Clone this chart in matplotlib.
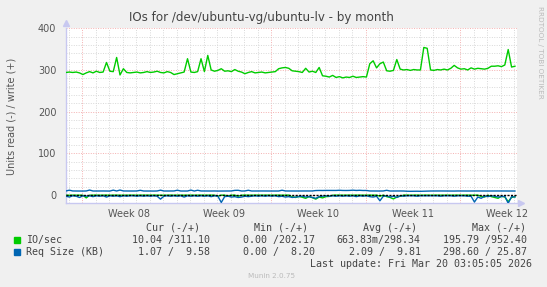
import numpy as np
import matplotlib
matplotlib.use("Agg")
import matplotlib.pyplot as plt
from matplotlib.patches import Rectangle

# samples every 6 hours, day 0 = left edge of the graph
io_write = [
    294, 295, 294, 295, 293, 289, 293, 296, 293, 297,
    294, 295, 318, 297, 296, 330, 288, 303, 294, 293,
    294, 295, 293, 294, 296, 294, 295, 297, 294, 293,
    296, 294, 289, 291, 293, 295, 327, 295, 294, 296,
    327, 296, 335, 300, 297, 299, 303, 297, 298, 296,
    301, 297, 295, 291, 294, 296, 293, 294, 295, 293,
    294, 295, 296, 303, 305, 306, 304, 298, 297, 296,
    294, 304, 295, 297, 294, 306, 286, 285, 283, 287,
    282, 284, 281, 283, 282, 285, 282, 283, 284, 283,
    315, 322, 305, 315, 319, 298, 297, 299, 325, 302,
    300, 301, 299, 301, 300, 300, 354, 352, 300, 299,
    301, 300, 302, 300, 304, 311, 305, 302, 303, 300,
    305, 302, 304, 303, 302, 304, 309, 309, 310, 308,
    312, 349, 307, 309,
]
io_read = [
    0.5, 0.8, 0.4, 0.6, 0.5, 0.7, 7.0, 0.6, 0.5, 0.4,
    0.6, 0.5, 0.4, 0.6, 0.5, 0.4, 0.7, 0.5, 0.6, 0.4,
    0.5, 0.6, 0.4, 0.5, 0.6, 0.5, 0.4, 0.6, 0.5, 0.7,
    0.5, 0.4, 0.6, 0.5, 0.4, 0.6, 0.5, 0.4, 0.6, 0.5,
    0.4, 0.6, 0.5, 0.4, 0.6, 3.0, 0.4, 0.5, 2.5, 0.4,
    0.5, 3.0, 0.6, 0.4, 0.5, 0.6, 0.4, 0.5, 0.6, 0.5,
    0.4, 0.6, 0.5, 0.4, 0.6, 0.5, 0.4, 4.5, 6.0, 3.5,
    5.5, 8.0, 4.0, 6.5, 10.0, 5.0, 7.0, 4.0, 3.5, 0.6,
    0.5, 0.4, 0.6, 0.5, 0.4, 0.6, 0.5, 0.4, 0.6, 0.5,
    0.4, 0.6, 0.5, 3.0, 0.5, 4.0, 6.0, 9.5, 5.0, 3.0,
    0.5, 0.4, 0.6, 0.5, 0.4, 0.6, 0.5, 0.4, 0.6, 0.5,
    0.4, 0.6, 0.5, 0.4, 0.6, 0.5, 0.4, 0.6, 0.5, 0.4,
    0.6, 0.5, 0.4, 3.5, 5.0, 0.6, 4.0, 6.0, 8.0, 3.0,
    5.0, 16.0, 6.0, 4.0,
]
size_write = [
    9.6, 11.5, 9.6, 9.5, 9.6, 9.4, 9.6, 11.8, 9.5, 9.6,
    9.5, 9.6, 9.5, 9.4, 11.6, 9.5, 11.8, 9.6, 9.5, 9.6,
    9.5, 9.6, 11.2, 9.5, 9.6, 9.5, 9.4, 9.6, 11.5, 9.5,
    9.6, 9.5, 9.6, 11.4, 9.5, 9.6, 9.5, 11.7, 9.4, 11.3,
    9.6, 9.5, 9.6, 9.5, 9.6, 9.4, 9.5, 9.6, 9.5, 9.6,
    11.0, 11.2, 9.5, 9.6, 11.3, 9.5, 9.6, 9.5, 9.6, 9.5,
    9.6, 9.5, 9.6, 9.5, 11.4, 9.6, 9.5, 9.6, 9.5, 9.6,
    9.5, 9.6, 9.5, 9.6, 10.6, 10.8, 10.7, 10.9, 10.8, 10.7,
    10.8, 11.3, 10.8, 10.7, 10.9, 11.5, 10.8, 11.2, 10.7, 10.8,
    9.6, 9.5, 9.6, 9.5, 9.6, 11.2, 9.5, 9.6, 9.5, 9.6,
    9.5, 9.0, 8.8, 8.9, 9.0, 8.8, 9.1, 9.6, 9.5, 9.6,
    9.5, 9.6, 9.5, 9.6, 9.5, 9.4, 9.6, 9.5, 9.6, 9.5,
    9.6, 9.5, 9.6, 9.5, 9.6, 9.5, 9.6, 9.5, 9.6, 9.5,
    9.6, 9.5, 9.6, 9.5,
]
size_read = [
    3, 5, 2, 3, 6, 2, 3, 2, 4, 2,
    3, 2, 5, 2, 3, 2, 4, 2, 3, 2,
    2, 3, 2, 3, 2, 3, 2, 3, 10, 3,
    2, 3, 2, 3, 2, 5, 2, 3, 2, 3,
    2, 3, 2, 4, 2, 3, 18, 4, 3, 5,
    4, 6, 5, 3, 4, 3, 2, 3, 2, 3,
    2, 3, 2, 4, 3, 5, 4, 6, 5, 4,
    3, 5, 4, 6, 8, 4, 3, 2, 3, 2,
    3, 2, 3, 2, 3, 2, 4, 2, 3, 2,
    4, 5, 3, 14, 3, 2, 5, 3, 6, 2,
    3, 2, 2, 2, 3, 2, 2, 2, 2, 2,
    2, 3, 2, 2, 2, 3, 2, 2, 2, 3,
    3, 17, 5, 8, 3, 4, 2, 3, 5, 4,
    3, 20, 4, 5,
]
week_labels = ["Week 08", "Week 09", "Week 10", "Week 11", "Week 12"]
yticks = [0, 100, 200, 300, 400]

legend_rows = [
    ("IO/sec", "#00cc00", "10.04 /311.10", "0.00 /202.17", "663.83m/298.34", "195.79 /952.40"),
    ("Req Size (KB)", "#0066b3", "1.07 /  9.58", "0.00 /  8.20", "2.09 /  9.81", "298.60 / 25.87"),
]

W, H = 547, 287
def fx(px):
    return px / W
def fy(py):
    return 1 - py / H

days = np.arange(len(io_write)) * 0.25
week_start = 1.2
x_max = 33.38

fig = plt.figure(figsize=(W / 100, H / 100), dpi=100, facecolor="#f0f0f0")
ax = fig.add_axes([fx(66), fy(203.3), 450.7 / W, 175 / H])
ax.set_facecolor("white")
ax.set_xlim(0, x_max)
ax.set_ylim(-20, 400)

# grid
for d in np.arange(week_start - 1, x_max, 1.0):
    major = abs((d - week_start) % 7) < 1e-6
    ax.axvline(d, color="#f4b0b0" if major else "#d8d8d8", lw=0.7,
               ls=(0, (1, 1.5)), zorder=1)
for v in range(-20, 401, 20):
    ax.axhline(v, color="#f4b0b0" if v % 100 == 0 else "#d8d8d8", lw=0.7,
               ls=(0, (1, 1.5)), zorder=1)

green, blue = "#00cc00", "#0066b3"
ax.plot(days, -np.array(io_read), color=green, lw=1.0, zorder=3)
ax.plot(days, io_write, color=green, lw=1.0, zorder=3)
ax.plot(days, -np.array(size_read), color=blue, lw=1.0, zorder=4)
ax.plot(days, size_write, color=blue, lw=1.0, zorder=4)
ax.axhline(0, color="black", lw=1.0, ls=(0, (1.5, 1)), zorder=5)

for s in ["top", "right"]:
    ax.spines[s].set_visible(False)
for s in ["left", "bottom"]:
    ax.spines[s].set_color("#c8c8f0")
    ax.spines[s].set_linewidth(1.0)
ax.plot([0], [1.03], marker="^", ms=4, color="#c8c8f0", transform=ax.transAxes, clip_on=False)
ax.plot([1.01], [0], marker=">", ms=4, color="#c8c8f0", transform=ax.transAxes, clip_on=False)

ax.set_yticks(yticks)
ax.set_yticklabels([str(v) for v in yticks])
ax.set_xticks([week_start + 3.5 + 7 * i for i in range(len(week_labels))])
ax.set_xticklabels(week_labels)
ax.tick_params(length=0, labelsize=7, colors="#555555")
ax.tick_params(axis="y", pad=7)
ax.tick_params(axis="x", pad=4)

fig.text(fx(261), fy(18), "IOs for /dev/ubuntu-vg/ubuntu-lv - by month",
         ha="center", va="center", fontsize=8.6, color="#444444")
fig.text(fx(12), fy(116), "Units read (-) / write (+)", rotation=90,
         ha="center", va="center", fontsize=7, color="#555555")
fig.text(fx(540), fy(6), "RRDTOOL / TOBI OETIKER", rotation=270,
         ha="center", va="top", fontsize=5.2, color="#bbbbbb")

mono = "DejaVu Sans Mono"
fs = 7.2
col_x = [209.7, 315, 420.7, 526.7]
head_x = [200, 308.3, 417.3, 525.7]
heads = ["Cur (-/+)", "Min (-/+)", "Avg (-/+)", "Max (-/+)"]
for hx, h in zip(head_x, heads):
    fig.text(fx(hx), fy(227.7), h, ha="right", va="center", family=mono, fontsize=fs, color="#444444")
for i, row in enumerate(legend_rows):
    yy = 240 + 11.8 * i
    fig.patches.append(Rectangle((fx(14), fy(yy + 2.7)), 5.5 / W, 5.5 / H,
                                 transform=fig.transFigure, color=row[1]))
    fig.text(fx(26.5), fy(yy), row[0], ha="left", va="center", family=mono, fontsize=fs, color="#444444")
    for cx, val in zip(col_x, row[2:]):
        fig.text(fx(cx), fy(yy), val, ha="right", va="center", family=mono, fontsize=fs, color="#444444")
fig.text(fx(532), fy(264), "Last update: Fri Mar 20 03:05:05 2026", ha="right", va="center",
         family=mono, fontsize=fs, color="#444444")
fig.text(fx(272), fy(276), "Munin 2.0.75", ha="center", va="center", fontsize=5.2, color="#bbbbbb")

fig.savefig("out.png", dpi=100, facecolor=fig.get_facecolor())
